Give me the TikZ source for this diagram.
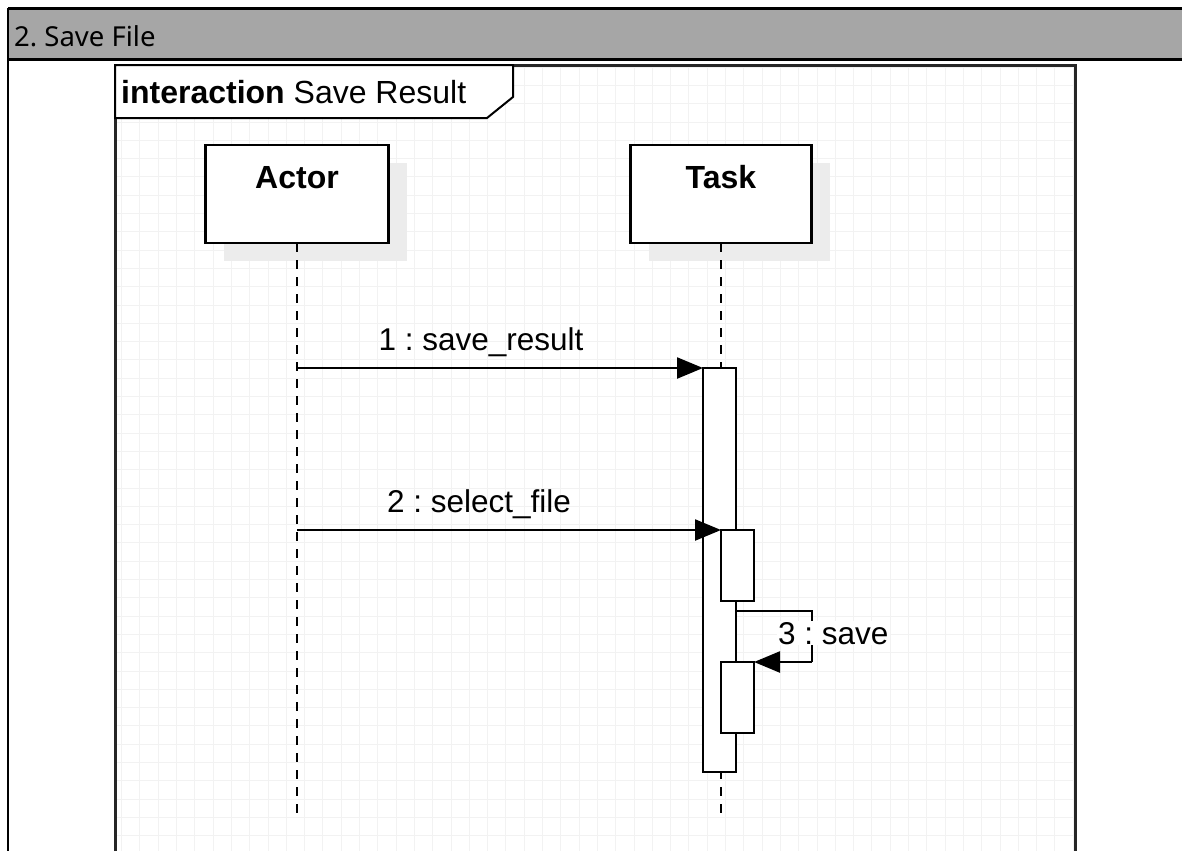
\documentclass[tikz,border=0pt]{standalone}
\usepackage{fontspec}
\setmainfont{Liberation Sans}
\newfontfamily\hdrfont{Noto Sans}
\usetikzlibrary{arrows.meta,calc}
\definecolor{hdrgray}{HTML}{A6A6A6}
\definecolor{gridc}{HTML}{F2F2F2}
\definecolor{shadowc}{HTML}{ECECEC}
\frenchspacing
\tikzset{
  lifebox/.style={draw=black, line width=2.5pt, fill=white, minimum width=183pt, minimum height=98pt, inner sep=0pt, outer sep=0pt},
  boxtext/.style={font=\bfseries\fontsize{32}{36}\selectfont, anchor=base, inner sep=0pt},
  lifeline/.style={line width=2.2pt, dash pattern=on 9pt off 8pt},
  actbox/.style={draw=black, line width=2.3pt, fill=white, minimum width=33pt, inner sep=0pt, outer sep=0pt},
  msg/.style={line width=2.3pt, -{Triangle[length=26pt,width=21pt]}},
  msglbl/.style={font=\fontsize{31.5}{35}\selectfont, anchor=base, inner sep=0pt}
}
\begin{document}
\begin{tikzpicture}[x=1pt,y=-1pt]
\useasboundingbox (0,0) rectangle (1182,851);
\fill[white] (0,0) rectangle (1182,851);
% header
\fill[hdrgray] (8,9) rectangle (1182,60);
\draw[line width=3pt] (8,9) -- (1182,9);
\draw[line width=3pt] (8,60) -- (1182,60);
\draw[line width=2pt] (8,8) -- (8,851);
\node[anchor=base west, inner sep=0pt] (hdr) at (14,47) {\hdrfont\fontsize{27.5}{32}\selectfont 2. Save File};
% grid inside frame
\begin{scope}
\clip (115,65) rectangle (1075,851);
\foreach \i in {0,...,53} {
  \pgfmathsetmacro{\gx}{103.2+18.3*\i}
  \draw[gridc, line width=0.8pt] (\gx,65) -- (\gx,851);
}
\foreach \j in {0,...,45} {
  \pgfmathsetmacro{\gy}{67+18.3*\j}
  \draw[gridc, line width=0.8pt] (115,\gy) -- (1075,\gy);
}
\end{scope}
% frame
\draw[line width=3pt, black!85] (115,851) -- (115,65) -- (1075,65) -- (1075,851);
% tab
\draw[line width=2pt, fill=white] (115,65) -- (513,65) -- (513,97) -- (487,118) -- (115,118) -- cycle;
\node[anchor=base west, inner sep=0pt, font=\fontsize{32}{36}\selectfont] (title) at (121,103) {\textbf{interaction} Save Result};
% shadows
\fill[shadowc] (223.5,163) rectangle (406.5,261);
\fill[shadowc] (648.5,163) rectangle (829.5,261);
% lifeline heads
\node[lifebox] (actor) at (297,194) {};
\node[lifebox, minimum width=181pt] (task) at (721,194) {};
\node[boxtext] (actorlbl) at (297,188) {Actor};
\node[boxtext] (tasklbl) at (721,188) {Task};
% lifeline ends
\coordinate (actorEnd) at (297,813);
\coordinate (taskEnd) at (721,813);
\draw[lifeline] (actor.south) -- (actorEnd);
\draw[lifeline] (task.south) -- (taskEnd);
% activations
\node[actbox, minimum height=404pt] (actO) at (719.5,570) {};
\coordinate (m1s) at (297,368);
\draw[msg] (m1s) -- (actO.north west);
\node[msglbl] (m1lbl) at (481,350) {1 : save\_result};
\node[actbox, minimum height=71pt] (act1) at (737.5,565.5) {};
\coordinate (m2s) at (297,530);
\draw[msg] (m2s) -- (act1.north west);
\node[msglbl] (m2lbl) at (479,512) {2 : select\_file};
% self message
\coordinate (s1) at (736,611);
\coordinate (s2) at (812,611);
\coordinate (s3) at (812,662);
\node[actbox, minimum height=71pt] (act2) at (737.5,697.5) {};
\draw[msg, -] (s1) -- (s2) -- (s3);
\draw[msg] (s3) -- (act2.north east);
\node[msglbl, anchor=base west, fill=white, inner sep=1pt] (m3lbl) at (777,644) {3 : save};
\end{tikzpicture}
\end{document}
